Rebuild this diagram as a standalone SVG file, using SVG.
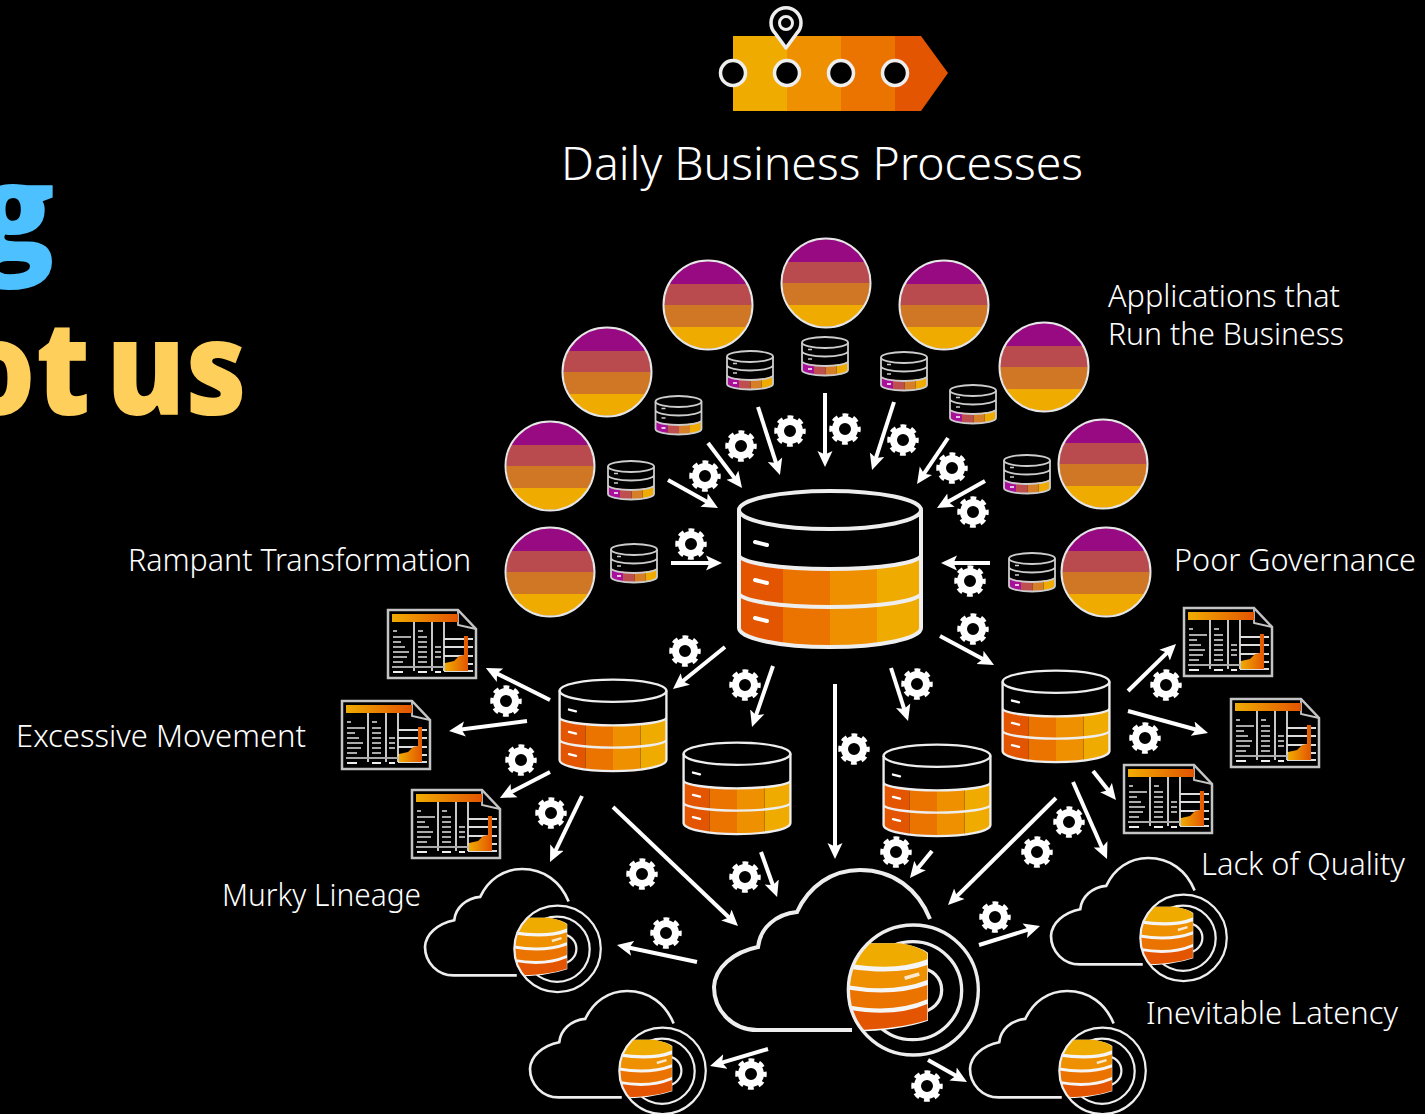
<svg xmlns="http://www.w3.org/2000/svg" width="1425" height="1114" viewBox="0 0 1425 1114">
<style>
.lbl{font-family:"Noto Sans","Open Sans","Liberation Sans",sans-serif;font-weight:300;fill:#fff;font-size:31px}
.ttl{font-family:"Open Sans","Liberation Sans",sans-serif;font-weight:800;font-size:132px;text-anchor:end}
.o{fill:none;stroke:#eee;stroke-width:4}
.conn line{stroke:#fff;stroke-width:4;marker-end:url(#head)}
.dl{stroke:#aaa;stroke-width:1.8;fill:none}
.dv{stroke:#ddd;stroke-width:1.8;fill:none}
.cl{fill:none;stroke:#eee;stroke-width:10}
</style>
<defs>
<marker id="head" markerUnits="userSpaceOnUse" markerWidth="16" markerHeight="16" viewBox="0 0 16 16" refX="8" refY="8" orient="auto"><path d="M0,.5 16,8 0,15.5 3.5,8Z" fill="#fff"/></marker>
<linearGradient id="hd"><stop offset="0" stop-color="#f0ab00"/><stop offset="1" stop-color="#e35500"/></linearGradient>
<clipPath id="cApp"><circle r="44"/></clipPath>
<clipPath id="cDb"><path d="M-91,65A91,14 0 0 0 91,65V138A91,19 0 0 1 -91,138Z"/></clipPath>
<clipPath id="cSm"><path d="M-23,24A23,4 0 0 0 23,24V33A23,5.500 0 0 1 -23,33Z"/></clipPath>
<clipPath id="cCl"><circle cx="640" cy="420" r="193"/></clipPath>
<g id="gear"><circle r="9.500" fill="none" stroke="#fff" stroke-width="7"/><circle r="13.500" fill="none" stroke="#fff" stroke-width="4.500" stroke-dasharray="5.600 5" stroke-dashoffset="2.800"/></g>
<g id="app"><g clip-path="url(#cApp)"><rect x="-45" y="-45" width="90" height="24" fill="#970a82"/><rect x="-45" y="-21" width="90" height="21" fill="#b94b4f"/><rect x="-45" y="0" width="90" height="22" fill="#d07725"/><rect x="-45" y="22" width="90" height="23" fill="#f0ab00"/></g><circle r="44.500" fill="none" stroke="#e6e6e6" stroke-width="2"/></g>
<g id="small"><g clip-path="url(#cSm)"><rect x="-23" y="20" width="12" height="20" fill="#a8109a"/><rect x="-11" y="20" width="11.500" height="20" fill="#bf4f4f"/><rect x=".5" y="20" width="11" height="20" fill="#d67e28"/><rect x="11.500" y="20" width="12" height="20" fill="#f0ab00"/></g><g fill="none" stroke="#ccc" stroke-width="1.800"><ellipse cy="5.500" rx="23" ry="5.500"/><path d="M-23,5.500V33A23,5.500 0 0 0 23,33V5.500M-23,14A23,5.500 0 0 0 23,14M-23,24A23,5 0 0 0 23,24"/></g><path d="M-17,12.500h4M-17,22h4" stroke="#ccc" stroke-width="1.500"/><path d="M-17,32h4" stroke="#fff" stroke-width="1.500"/></g>
<g id="db"><g clip-path="url(#cDb)"><rect x="-92" y="60" width="45" height="120" fill="#e35500"/><rect x="-47" y="60" width="47" height="120" fill="#eb7400"/><rect x="0" y="60" width="47" height="120" fill="#ee9000"/><rect x="47" y="60" width="45" height="120" fill="#f0ab00"/></g><ellipse cy="20" rx="91" ry="19" class="o"/><path class="o" d="M-91,20V138A91,19 0 0 0 91,138V20M-91,65A91,14 0 0 0 91,65M-91,103A91,14 0 0 0 91,103"/><path d="M-75,52L-63,55M-75,90L-63,93M-75,128L-63,131" stroke="#fff" stroke-width="4" stroke-linecap="round"/></g>
<g id="doc"><path d="M1,1H71L89,20V69H1Z" fill="#000" stroke="#c4c4c4" stroke-width="2.500"/><path d="M71,1V16L89,20" fill="none" stroke="#c4c4c4" stroke-width="1.800"/><rect x="5" y="5" width="66" height="8" fill="url(#hd)"/>
<path class="dv" d="M27,13V62M45,13V62M57,13V62M57,30H86M57,38H86M57,47H86M57,55H86M57,62H86"/><path class="dl" d="M5,58H57"/>
<path class="dl" d="M6,22h4M6,28h18M6,33h8M6,38h12M6,43h16M6,48h14M6,53h10M31,22h5M31,28h9M31,33h9M31,38h9M31,43h9M31,48h9M31,53h9M48,38h6M48,43h6M48,48h6"/><path d="M6,63h10M31,63h9M48,63h6" stroke="#eee" stroke-width="1.800"/>
<path d="M58,62V54L67,52 72,47 77,46V27H81V62Z" fill="url(#hd)"/></g>
<g id="cloud"><path class="o" d="M216,49C204,19 179,0 146,0C118,0 95,16 83,42C62,44 46,58 44,77C19,82 1,98 0,117C0,141 19,160 43,160H138"/>
<g transform="translate(-14,-20) scale(.33333)"><circle cx="638" cy="422" r="147" class="cl"/><circle cx="660" cy="420" r="65" class="cl"/>
<g clip-path="url(#cCl)"><path d="M440,280H600Q660,290 684,308V512Q590,545 440,545Z" fill="#f5f5f5"/><path d="M440,280H600Q660,290 682,310V328Q590,365 440,340Z" fill="#f0ab00"/><path d="M440,355Q590,378 682,345V390Q580,430 440,405Z" fill="#ee9000"/><path d="M440,418Q580,442 682,405V448Q580,492 440,465Z" fill="#eb7400"/><path d="M440,478Q580,505 682,462V510Q590,540 440,540Z" fill="#e35500"/></g>
<path d="M614,385L658,372" stroke="#fff" stroke-width="11" stroke-opacity=".8"/><circle cx="640" cy="420" r="195" class="cl"/></g></g>
</defs>
<rect width="1425" height="1114" fill="#000"/>

<g id="title"><text class="ttl" x="55" y="258" fill="#4dc0ff">g</text><text class="ttl" transform="translate(247,415) scale(.9,1)" x="0" y="0" fill="#ffcf5c" style="word-spacing:-17px">ot us</text></g>

<g id="process"><path d="M733,36H787V111H733Z" fill="#f0ab00"/><path d="M787,36H841V111H787Z" fill="#ee9000"/><path d="M841,36H895V111H841Z" fill="#eb7400"/><path d="M895,36H921L948,73 921,111H895Z" fill="#e35500"/>
<g fill="#000" stroke="#eee" stroke-width="3.500"><circle cx="733" cy="73" r="12.500"/><circle cx="787" cy="73" r="12.500"/><circle cx="841" cy="73" r="12.500"/><circle cx="895" cy="73" r="12.500"/></g>
<path d="M786,48L775,33A15,15 0 1 1 797,33Z" fill="#000" stroke="#eee" stroke-width="3.500" stroke-linejoin="round"/><circle cx="786" cy="23" r="6.500" fill="none" stroke="#eee" stroke-width="3"/></g>

<g id="labels">
<text class="lbl" x="561" y="180" style="font-size:45px" textLength="522" lengthAdjust="spacingAndGlyphs">Daily Business Processes</text>
<text class="lbl" x="1108" y="307" textLength="232" lengthAdjust="spacingAndGlyphs">Applications that</text>
<text class="lbl" x="1108" y="345" textLength="236" lengthAdjust="spacingAndGlyphs">Run the Business</text>
<text class="lbl" x="128" y="571" textLength="343" lengthAdjust="spacingAndGlyphs">Rampant Transformation</text>
<text class="lbl" x="1174" y="571" textLength="242" lengthAdjust="spacingAndGlyphs">Poor Governance</text>
<text class="lbl" x="16" y="747" textLength="290" lengthAdjust="spacingAndGlyphs">Excessive Movement</text>
<text class="lbl" x="222" y="906" textLength="199" lengthAdjust="spacingAndGlyphs">Murky Lineage</text>
<text class="lbl" x="1201" y="875" textLength="204" lengthAdjust="spacingAndGlyphs">Lack of Quality</text>
<text class="lbl" x="1146" y="1024" textLength="252" lengthAdjust="spacingAndGlyphs">Inevitable Latency</text>
</g>

<g id="apps">
<g id="app1"><use href="#app" x="550" y="572"/></g><g id="app2"><use href="#app" x="550" y="466"/></g><g id="app3"><use href="#app" x="607" y="372"/></g><g id="app4"><use href="#app" x="708" y="305"/></g><g id="app5"><use href="#app" x="826" y="283"/></g><g id="app6"><use href="#app" x="944" y="305"/></g><g id="app7"><use href="#app" x="1044" y="367"/></g><g id="app8"><use href="#app" x="1103" y="464"/></g><g id="app9"><use href="#app" x="1106" y="572"/></g>
</g>
<g id="small-dbs">
<g id="sdb1"><use href="#small" x="634" y="544"/></g><g id="sdb2"><use href="#small" x="631" y="461"/></g><g id="sdb3"><use href="#small" x="678.500" y="396"/></g><g id="sdb4"><use href="#small" x="750" y="351"/></g><g id="sdb5"><use href="#small" x="825" y="337"/></g><g id="sdb6"><use href="#small" x="904" y="352"/></g><g id="sdb7"><use href="#small" x="973" y="385"/></g><g id="sdb8"><use href="#small" x="1027" y="455"/></g><g id="sdb9"><use href="#small" x="1032" y="553"/></g>
</g>
<g id="central-db" transform="translate(830,490)"><use href="#db"/></g>
<g id="db-a" transform="translate(613,679) scale(.587)"><use href="#db"/></g>
<g id="db-b" transform="translate(737,742) scale(.587)"><use href="#db"/></g>
<g id="db-c" transform="translate(937,744) scale(.587)"><use href="#db"/></g>
<g id="db-d" transform="translate(1056,670) scale(.587)"><use href="#db"/></g>

<g id="doc1" transform="translate(387,609)"><use href="#doc"/></g>
<g id="doc2" transform="translate(341,700)"><use href="#doc"/></g>
<g id="doc3" transform="translate(411,789)"><use href="#doc"/></g>
<g id="doc4" transform="translate(1183,607)"><use href="#doc"/></g>
<g id="doc5" transform="translate(1230,698)"><use href="#doc"/></g>
<g id="doc6" transform="translate(1123,764)"><use href="#doc"/></g>

<g id="cloud-main" transform="translate(714,870)"><use href="#cloud"/></g>
<g id="cloud-a" transform="translate(425,869) scale(.665)"><use href="#cloud"/></g>
<g id="cloud-b" transform="translate(530,991) scale(.665)"><use href="#cloud"/></g>
<g id="cloud-c" transform="translate(970,991) scale(.665)"><use href="#cloud"/></g>
<g id="cloud-d" transform="translate(1051,858) scale(.665)"><use href="#cloud"/></g>

<g id="gears">
<use href="#gear" x="705" y="476"/><use href="#gear" x="741" y="446"/><use href="#gear" x="790" y="431"/><use href="#gear" x="845" y="429"/><use href="#gear" x="903" y="440"/><use href="#gear" x="952" y="468"/><use href="#gear" x="973" y="512"/><use href="#gear" x="970" y="581"/><use href="#gear" x="691" y="544"/>
<use href="#gear" x="685" y="651"/><use href="#gear" x="745" y="685"/><use href="#gear" x="917" y="684"/><use href="#gear" x="973" y="629"/><use href="#gear" x="854" y="749"/>
<use href="#gear" x="506" y="701"/><use href="#gear" x="521" y="760"/><use href="#gear" x="551" y="813"/><use href="#gear" x="642" y="874"/>
<use href="#gear" x="745" y="877"/><use href="#gear" x="896" y="852"/><use href="#gear" x="1037" y="852"/><use href="#gear" x="1069" y="822"/><use href="#gear" x="995" y="917"/><use href="#gear" x="666" y="933"/><use href="#gear" x="751" y="1074"/><use href="#gear" x="927" y="1086"/><use href="#gear" x="1145" y="738"/><use href="#gear" x="1166" y="685"/>
</g>

<g id="connectors" class="conn">
<line x1="758" y1="407" x2="777.500" y2="467.400"/><line x1="825" y1="393" x2="825" y2="459"/><line x1="894" y1="402" x2="874.500" y2="462.400"/><line x1="708" y1="443" x2="737.200" y2="481.600"/><line x1="668" y1="480" x2="711" y2="504"/><line x1="671" y1="563" x2="714" y2="563"/><line x1="948" y1="438" x2="921.500" y2="477.400"/><line x1="985" y1="481" x2="944" y2="504"/><line x1="990" y1="563" x2="949" y2="563"/>
<line x1="725" y1="647" x2="679.200" y2="684"/><line x1="773" y1="666" x2="754.600" y2="719.400"/><line x1="835" y1="684" x2="835" y2="851"/><line x1="891" y1="668" x2="905.600" y2="713.400"/><line x1="940" y1="636" x2="987" y2="661.200"/>
<line x1="550" y1="700" x2="493" y2="671.600"/><line x1="527" y1="721" x2="457" y2="730"/><line x1="550" y1="772" x2="507" y2="794.300"/><line x1="582" y1="796" x2="553.500" y2="854.800"/><line x1="613" y1="807" x2="732.200" y2="920.500"/>
<line x1="761" y1="852" x2="774.400" y2="889.500"/><line x1="932" y1="851" x2="915" y2="871.800"/><line x1="1056" y1="798" x2="953.700" y2="899.400"/><line x1="1073" y1="782" x2="1103.800" y2="851.700"/><line x1="1093" y1="771" x2="1111" y2="793.800"/><line x1="1128" y1="711" x2="1200.300" y2="730.800"/><line x1="1128" y1="691" x2="1170.300" y2="649.600"/><line x1="979" y1="945" x2="1032.400" y2="928.400"/><line x1="697" y1="962" x2="624.800" y2="946.700"/><line x1="768" y1="1049" x2="717.700" y2="1063.800"/><line x1="928" y1="1060" x2="960" y2="1078"/>
</g>
</svg>
